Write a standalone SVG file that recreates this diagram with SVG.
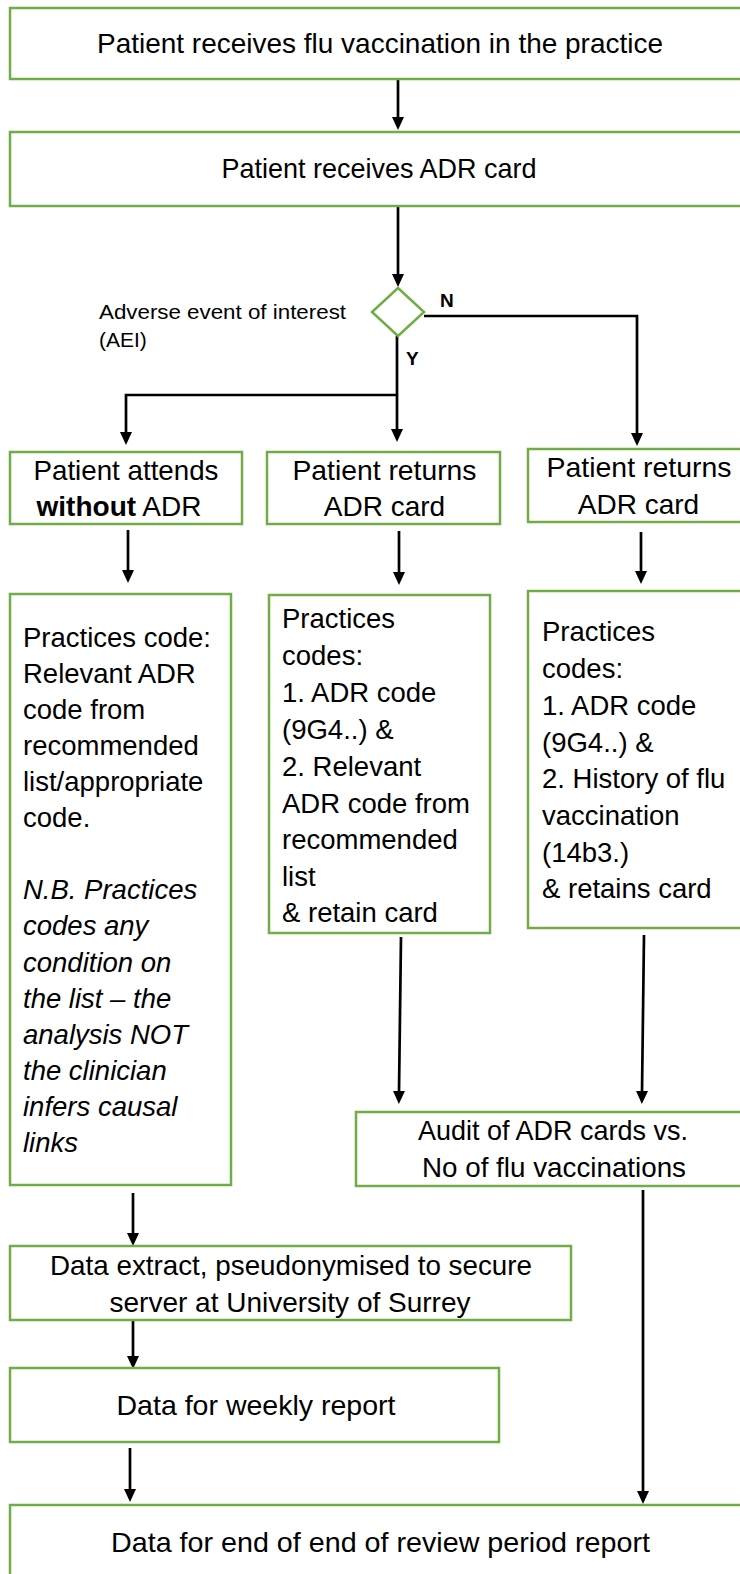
<svg xmlns="http://www.w3.org/2000/svg" width="740" height="1574" viewBox="0 0 740 1574">
  <style>
    .box { fill: #ffffff; stroke: #70AD47; stroke-width: 2.5; }
    .dia { fill: #ffffff; stroke: #70AD47; stroke-width: 2.5; }
    .t { font-family: "Liberation Sans", Arial, sans-serif; font-size: 28px; fill: #000000; }
    .tm { font-family: "Liberation Sans", Arial, sans-serif; font-size: 27.5px; fill: #000000; }
    .c { text-anchor: middle; }
    .it { font-style: italic; }
    .lbl { font-family: "Liberation Sans", Arial, sans-serif; font-size: 21px; fill: #000000; }
    .yn { font-family: "Liberation Sans", Arial, sans-serif; font-size: 19px; font-weight: bold; fill: #000000; }
    .conn { fill: none; stroke: #000000; stroke-width: 2.7; marker-end: url(#ah); }
  </style>
  <defs>
    <marker id="ah" markerUnits="userSpaceOnUse" markerWidth="14" markerHeight="13" refX="1" refY="6" orient="auto">
      <path d="M0,0 L13,6 L0,12 z" fill="#000000"/>
    </marker>
  </defs>

  <rect width="740" height="1574" fill="#ffffff"/>

  <!-- connectors -->
  <g id="connectors">
    <path class="conn" d="M398,80 V118"/>
    <path class="conn" d="M398,207 V275"/>
    <path class="conn" d="M424,316 H637 V434"/>
    <path class="conn" d="M397,336 V430"/>
    <path class="conn" d="M397,395 H126 V433"/>
    <path class="conn" d="M128,530 V571"/>
    <path class="conn" d="M399,531 V573"/>
    <path class="conn" d="M641,532 V572"/>
    <path class="conn" d="M401,937 L399,1092"/>
    <path class="conn" d="M644,935 L642,1092"/>
    <path class="conn" d="M133,1193 V1234"/>
    <path class="conn" d="M133,1320 V1357"/>
    <path class="conn" d="M130,1448 V1490"/>
    <path class="conn" d="M643,1190 V1492"/>
  </g>

  <g id="vaccination">
    <rect class="box" x="10" y="8" width="745" height="71"/>
    <text class="t c" x="380" y="53" textLength="566" lengthAdjust="spacingAndGlyphs">Patient receives flu vaccination in the practice</text>
  </g>

  <g id="receives-card">
    <rect class="box" x="10" y="132" width="745" height="74"/>
    <text class="t c" x="379" y="178" textLength="315" lengthAdjust="spacingAndGlyphs">Patient receives ADR card</text>
  </g>

  <g id="aei-decision">
    <polygon class="dia" points="398,288 424,312 398,336 372,312"/>
    <text class="lbl" x="99" y="319" textLength="247" lengthAdjust="spacingAndGlyphs">Adverse event of interest</text>
    <text class="lbl" x="99" y="347">(AEI)</text>
    <text class="yn" x="440" y="307">N</text>
    <text class="yn" x="406" y="365">Y</text>
  </g>

  <g id="attends-without">
    <rect class="box" x="10" y="452" width="232" height="72"/>
    <text class="t c" x="126" y="480" textLength="185" lengthAdjust="spacingAndGlyphs">Patient attends</text>
    <text class="t c" x="119" y="516"><tspan font-weight="bold">without</tspan> ADR</text>
  </g>

  <g id="returns-card-y">
    <rect class="box" x="267" y="452" width="233" height="72"/>
    <text class="t c" x="384.5" y="480" textLength="184" lengthAdjust="spacingAndGlyphs">Patient returns</text>
    <text class="t c" x="384.5" y="516">ADR card</text>
  </g>

  <g id="returns-card-n">
    <rect class="box" x="528" y="449" width="222" height="73"/>
    <text class="t c" x="639" y="477" textLength="185" lengthAdjust="spacingAndGlyphs">Patient returns</text>
    <text class="t c" x="638.5" y="514">ADR card</text>
  </g>

  <g id="code-without">
    <rect class="box" x="10" y="594" width="221" height="591"/>
    <text class="tm" x="23" y="647">Practices code:</text>
    <text class="tm" x="23" y="683">Relevant ADR</text>
    <text class="tm" x="23" y="719">code from</text>
    <text class="tm" x="23" y="755">recommended</text>
    <text class="tm" x="23" y="791">list/appropriate</text>
    <text class="tm" x="23" y="827">code.</text>
    <text class="tm it" x="23" y="899">N.B. Practices</text>
    <text class="tm it" x="23" y="935">codes any</text>
    <text class="tm it" x="23" y="972">condition on</text>
    <text class="tm it" x="23" y="1008">the list – the</text>
    <text class="tm it" x="23" y="1044">analysis NOT</text>
    <text class="tm it" x="23" y="1080">the clinician</text>
    <text class="tm it" x="23" y="1116">infers causal</text>
    <text class="tm it" x="23" y="1152">links</text>
  </g>

  <g id="codes-retain">
    <rect class="box" x="269" y="595" width="221" height="338"/>
    <text class="tm" x="282" y="628">Practices</text>
    <text class="tm" x="282" y="665">codes:</text>
    <text class="tm" x="282" y="702">1. ADR code</text>
    <text class="tm" x="282" y="739">(9G4..) &amp;</text>
    <text class="tm" x="282" y="776">2. Relevant</text>
    <text class="tm" x="282" y="813">ADR code from</text>
    <text class="tm" x="282" y="849">recommended</text>
    <text class="tm" x="282" y="886">list</text>
    <text class="tm" x="282" y="922">&amp; retain card</text>
  </g>

  <g id="codes-history">
    <rect class="box" x="528" y="591" width="222" height="337"/>
    <text class="tm" x="542" y="641">Practices</text>
    <text class="tm" x="542" y="678">codes:</text>
    <text class="tm" x="542" y="715">1. ADR code</text>
    <text class="tm" x="542" y="752">(9G4..) &amp;</text>
    <text class="tm" x="542" y="788">2. History of flu</text>
    <text class="tm" x="542" y="825">vaccination</text>
    <text class="tm" x="542" y="862">(14b3.)</text>
    <text class="tm" x="542" y="898">&amp; retains card</text>
  </g>

  <g id="audit">
    <rect class="box" x="356" y="1112" width="394" height="74"/>
    <text class="t c" x="553" y="1140" textLength="270" lengthAdjust="spacingAndGlyphs">Audit of ADR cards vs.</text>
    <text class="t c" x="554" y="1177" textLength="264" lengthAdjust="spacingAndGlyphs">No of flu vaccinations</text>
  </g>

  <g id="data-extract">
    <rect class="box" x="10" y="1246" width="561" height="74"/>
    <text class="t c" x="291" y="1275" textLength="482" lengthAdjust="spacingAndGlyphs">Data extract, pseudonymised to secure</text>
    <text class="t c" x="290" y="1312" textLength="361" lengthAdjust="spacingAndGlyphs">server at University of Surrey</text>
  </g>

  <g id="weekly-report">
    <rect class="box" x="10" y="1368" width="489" height="74"/>
    <text class="t c" x="256" y="1415" textLength="279" lengthAdjust="spacingAndGlyphs">Data for weekly report</text>
  </g>

  <g id="end-report">
    <rect class="box" x="10" y="1505" width="745" height="80"/>
    <text class="t c" x="380.5" y="1552" textLength="539" lengthAdjust="spacingAndGlyphs">Data for end of end of review period report</text>
  </g>
</svg>
